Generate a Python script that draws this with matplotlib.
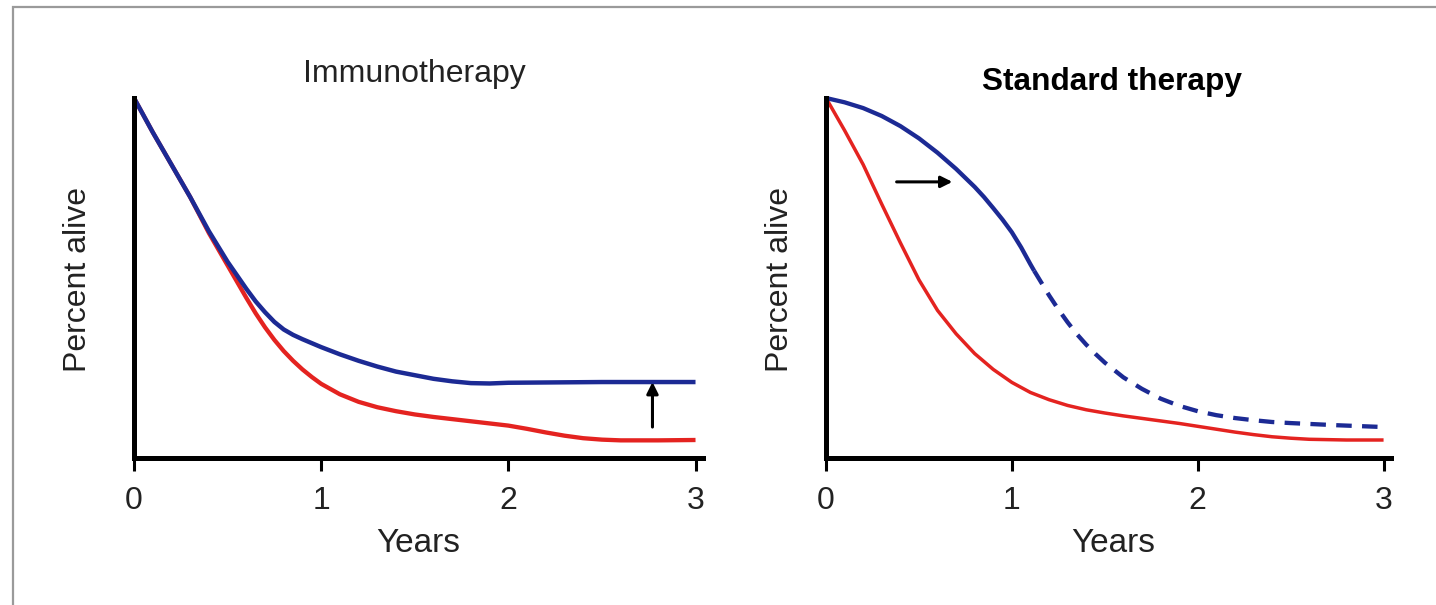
import matplotlib.pyplot as plt
from matplotlib.patches import Rectangle

# Immunotherapy panel
imm_years = [0, 0.1, 0.2, 0.3, 0.4, 0.5, 0.6, 0.65, 0.7, 0.75, 0.8, 0.85, 0.9, 0.95, 1.0, 1.1, 1.2, 1.3,
             1.4, 1.5, 1.6, 1.7, 1.8, 1.9, 2.0, 2.5, 3.0]
imm_new = [100, 90.5, 81.5, 72.5, 63, 54.5, 47, 43.5, 40.5, 37.8, 35.7, 34.2, 33, 31.9, 30.8, 28.8, 27, 25.4,
           24, 23, 22, 21.3, 20.8, 20.7, 20.9, 21.1, 21.1]
imm_old_years = [0, 0.1, 0.2, 0.3, 0.4, 0.45, 0.5, 0.55, 0.6, 0.65, 0.7, 0.75, 0.8, 0.85, 0.9, 0.95, 1.0,
                 1.1, 1.2, 1.3, 1.4, 1.5, 1.6, 1.7, 1.8, 1.9, 2.0, 2.1, 2.2, 2.3, 2.4, 2.5, 2.6, 2.8, 3.0]
imm_old = [100, 90.5, 81.5, 72.5, 62.5, 58, 53.5, 49, 44.5, 40.2, 36.3, 32.8, 29.7, 27, 24.6, 22.5, 20.6,
           17.7, 15.6, 14.1, 13, 12.1, 11.4, 10.8, 10.2, 9.6, 9, 8.1, 7.1, 6.2, 5.5, 5.1, 4.9, 4.9, 5]

# Standard therapy panel
std_new_years = [0, 0.1, 0.2, 0.3, 0.4, 0.5, 0.6, 0.7, 0.8, 0.85, 0.9, 0.95, 1.0, 1.05, 1.1, 1.12]
std_new = [100, 98.8, 97.2, 95, 92.2, 88.8, 84.8, 80.3, 75.3, 72.5, 69.4, 66.2, 62.7, 58.5, 53.8, 52]
std_proj_years = [1.12, 1.16, 1.2, 1.25, 1.3, 1.35, 1.4, 1.45, 1.5, 1.6, 1.7, 1.8, 1.9, 2.0, 2.1, 2.2,
                  2.3, 2.4, 2.5, 2.75, 3.0]
std_proj = [52, 48.6, 45.2, 41.3, 37.7, 34.4, 31.5, 28.9, 26.5, 22.4, 19.2, 16.5, 14.5, 13.0, 11.9, 11.1,
            10.5, 10.0, 9.7, 9.1, 8.6]
std_old_years = [0, 0.1, 0.2, 0.3, 0.4, 0.5, 0.6, 0.7, 0.8, 0.9, 1.0, 1.1, 1.2, 1.3, 1.4, 1.5, 1.6, 1.7,
                 1.8, 1.9, 2.0, 2.1, 2.2, 2.3, 2.4, 2.5, 2.6, 2.8, 3.0]
std_old = [100, 91, 81.5, 70.5, 59.8, 49.5, 41, 34.5, 29, 24.6, 21, 18.2, 16.2, 14.6, 13.4, 12.5, 11.7, 11,
           10.3, 9.6, 8.8, 8, 7.2, 6.5, 5.9, 5.5, 5.2, 5, 5]

ticks = [0, 1, 2, 3]
imm_arrow = [(2.77, 8.6), (2.77, 21.1)]   # (desde, hasta)
std_arrow = [(0.38, 76.7), (0.68, 76.7)]

AZUL = '#1c2a94'
ROJO = '#e42320'
TXT = '#222222'

plt.rcParams['font.family'] = ['Liberation Sans', 'DejaVu Sans']

fig = plt.figure(figsize=(14.36, 6.05), dpi=100)
W, H = 1436, 605

# marco gris de la imagen original
fig.patches.append(Rectangle((13 / W, -0.01), 1.1, (605 - 7) / H + 0.01, transform=fig.transFigure,
                             fill=False, edgecolor='#9a9a9a', linewidth=1.6))


def preparar_eje(ax):
    ax.set_xlim(0, 3.04)
    ax.set_ylim(0, 100)
    for lado in ['top', 'right']:
        ax.spines[lado].set_visible(False)
    for lado in ['left', 'bottom']:
        ax.spines[lado].set_linewidth(3.6)
        ax.spines[lado].set_capstyle('projecting')
    ax.set_xticks(ticks)
    ax.set_xticklabels([str(t) for t in ticks])
    ax.set_yticks([])
    ax.tick_params(axis='x', direction='out', length=9, width=2.2, pad=11,
                   labelsize=23, labelcolor=TXT)
    ax.set_xlabel('Years', fontsize=24, color=TXT, va='center')
    ax.set_ylabel('Percent alive', fontsize=23, color=TXT, va='center')


ax1 = fig.add_axes([134 / W, (605 - 458) / H, 569 / W, 360 / H])
preparar_eje(ax1)
ax1.plot(imm_old_years, imm_old, color=ROJO, lw=3.1, clip_on=False, solid_capstyle='butt')
ax1.plot(imm_years, imm_new, color=AZUL, lw=3.2, clip_on=False, solid_capstyle='butt')
ax1.annotate('', xy=imm_arrow[1], xytext=imm_arrow[0],
             arrowprops=dict(arrowstyle='-|>', color='black', lw=2.2, mutation_scale=17, shrinkA=0, shrinkB=0))
ax1.xaxis.set_label_coords((418 - 134) / 569, -(543 - 458) / 360)
ax1.yaxis.set_label_coords((78 - 134) / 569, (458 - 280) / 360)
fig.text(414 / W, 1 - 74 / H, 'Immunotherapy', fontsize=23, color=TXT, ha='center', va='center')

ax2 = fig.add_axes([826 / W, (605 - 458) / H, 565 / W, 360 / H])
preparar_eje(ax2)
ax2.plot(std_old_years, std_old, color=ROJO, lw=2.5, clip_on=False, solid_capstyle='butt')
ax2.plot(std_new_years, std_new, color=AZUL, lw=3.1, clip_on=False, solid_capstyle='butt')
ax2.plot(std_proj_years, std_proj, color=AZUL, lw=3.1, dashes=(3.6, 2.4), clip_on=False)
ax2.annotate('', xy=std_arrow[1], xytext=std_arrow[0],
             arrowprops=dict(arrowstyle='-|>', color='black', lw=2.2, mutation_scale=17, shrinkA=0, shrinkB=0))
ax2.xaxis.set_label_coords((1113 - 826) / 565, -(543 - 458) / 360)
ax2.yaxis.set_label_coords((780 - 826) / 565, (458 - 280) / 360)
fig.text(1112 / W, 1 - 82 / H, 'Standard therapy', fontsize=22.8, fontweight='bold', color='black',
         ha='center', va='center')

fig.savefig('out.png', dpi=100)
